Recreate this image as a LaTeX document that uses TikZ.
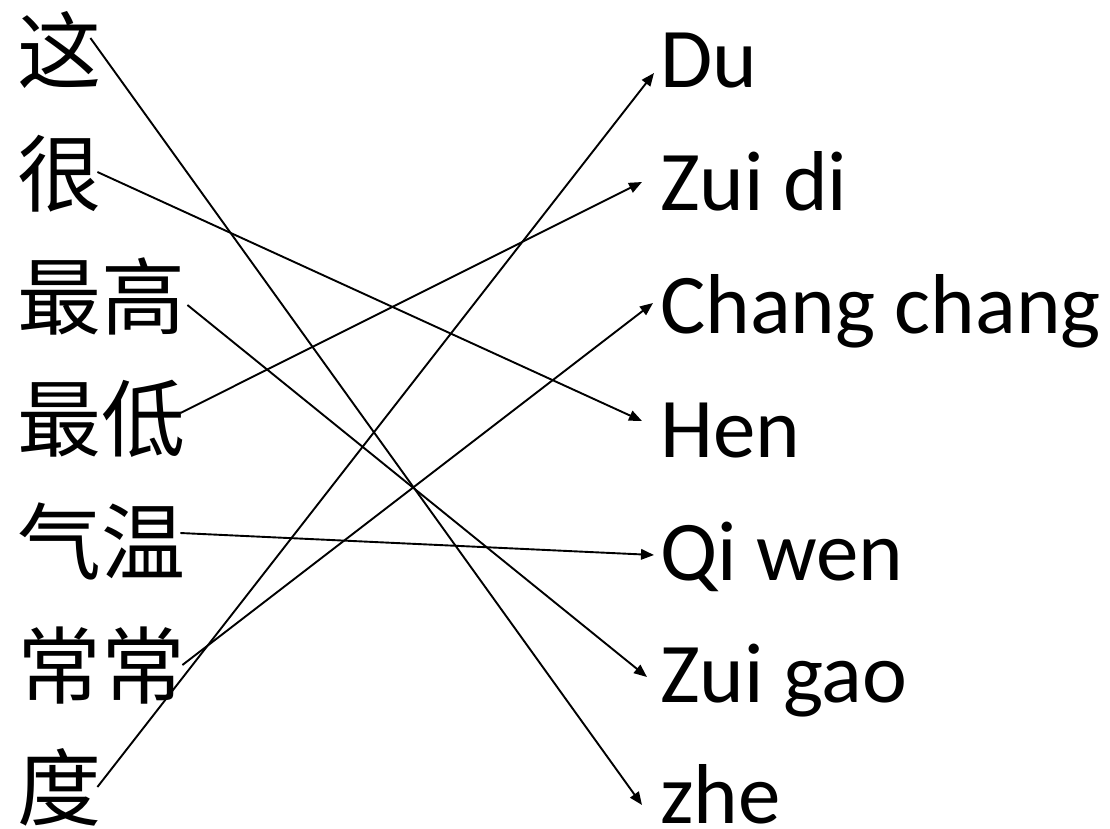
\documentclass[tikz,border=0pt]{standalone}
\usepackage{fontspec}
\setmainfont{Carlito}
\newfontfamily\cjk{Noto Sans CJK SC}
\usetikzlibrary{arrows.meta}
\begin{document}
\begin{tikzpicture}[x=1pt,y=-1pt,
  zh/.style={anchor=base west,inner sep=0pt,font=\cjk\fontsize{84}{100}\selectfont},
  py/.style={anchor=base west,inner sep=0pt,font=\fontsize{85}{100}\selectfont},
  link/.style={line width=1.9pt,-{Triangle[length=13pt,width=10.5pt]}}]
\useasboundingbox (0,0) rectangle (1110,828);
% left column
\node[zh] (l1) at (17,82) {这};
\node[zh] (l2) at (17,205) {很};
\node[zh] (l3) at (17,328) {最高};
\node[zh] (l4) at (17,450) {最低};
\node[zh] (l5) at (17,573) {气温};
\node[zh] (l6) at (17,697) {常常};
\node[zh] (l7) at (17,819) {度};
% right column
\node[py] (r1) at (660,87) {Du};
\node[py] (r2) at (660,210) {Zui di};
\node[py] (r3) at (660,333) {Chang chang};
\node[py] (r4) at (660,457) {Hen};
\node[py] (r5) at (660,580) {Qi wen};
\node[py] (r6) at (660,702) {Zui gao};
\node[py] (r7) at (660,823) {zhe};
% connectors
\draw[link] ([shift={(-11,-44)}]l1.base east) -- ([shift={(-18,-18)}]r7.base west);
\draw[link] ([shift={(-4,-33)}]l2.base east) -- ([shift={(-18,-36)}]r4.base west);
\draw[link] ([shift={(2,-23)}]l3.base east) -- ([shift={(-13,-25)}]r6.base west);
\draw[link] ([shift={(-5,-37)}]l4.base east) -- ([shift={(-18,-28)}]r2.base west);
\draw[link] ([shift={(-5,-40)}]l5.base east) -- ([shift={(-6,-25)}]r5.base west);
\draw[link] ([shift={(-3,-32)}]l6.base east) -- ([shift={(-7,-30)}]r3.base west);
\draw[link] ([shift={(-4,-32)}]l7.base east) -- ([shift={(-6,-14)}]r1.base west);
\end{tikzpicture}
\end{document}
